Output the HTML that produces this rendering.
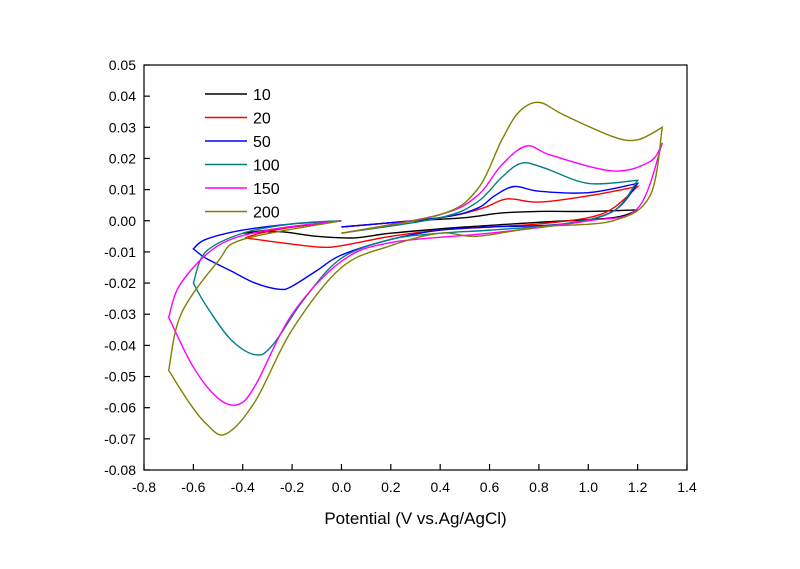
<!DOCTYPE html>
<html><head><meta charset="utf-8"><style>
body{margin:0;background:#fff;}
svg text{font-family:"Liberation Sans",Arial,sans-serif;}
</style></head><body>
<svg id="chart" width="800" height="564" xmlns="http://www.w3.org/2000/svg"></svg>
<script>
const xTicks=[-0.8,-0.6,-0.4,-0.2,0.0,0.2,0.4,0.6,0.8,1.0,1.2,1.4];
const yTicks=[0.05,0.04,0.03,0.02,0.01,0.00,-0.01,-0.02,-0.03,-0.04,-0.05,-0.06,-0.07,-0.08];
const seriesNames=["10","20","50","100","150","200"];
const seriesColors=["#000000","#ff0000","#0000ff","#008080","#ff00ff","#808000"];
const s10=[[0,-0.002],[0.3,0.0],[0.5,0.001],[0.65,0.0025],[0.8,0.003],[1.0,0.003],[1.2,0.0035],[1.1,0.001],[0.8,-0.0005],[0.5,-0.002],[0.2,-0.004],[0.05,-0.0055],[-0.1,-0.005],[-0.25,-0.0035],[-0.4,-0.004],[-0.3,-0.003],[-0.15,-0.0015],[0,0]];
const s20=[[0,-0.002],[0.4,0.001],[0.57,0.004],[0.67,0.007],[0.8,0.006],[1.0,0.008],[1.2,0.011],[1.1,0.004],[1.0,0.001],[0.8,-0.001],[0.6,-0.002],[0.4,-0.003],[0.2,-0.005],[0.0,-0.008],[-0.08,-0.0085],[-0.2,-0.0075],[-0.39,-0.0055],[-0.33,-0.004],[-0.2,-0.002],[0,0]];
const s50=[[0,-0.002],[0.4,0.001],[0.55,0.004],[0.62,0.008],[0.7,0.011],[0.8,0.0095],[1.0,0.009],[1.2,0.012],[1.1,0.003],[0.9,-0.001],[0.6,-0.002],[0.4,-0.003],[0.2,-0.006],[0.0,-0.011],[-0.1,-0.016],[-0.2,-0.021],[-0.25,-0.022],[-0.35,-0.02],[-0.45,-0.016],[-0.55,-0.012],[-0.6,-0.009],[-0.55,-0.006],[-0.4,-0.003],[-0.2,-0.001],[0,0]];
const s100=[[0,-0.004],[0.4,0.001],[0.55,0.006],[0.65,0.014],[0.73,0.0185],[0.82,0.017],[1.0,0.012],[1.2,0.013],[1.1,0.003],[0.9,-0.001],[0.6,-0.003],[0.4,-0.004],[0.2,-0.006],[0.0,-0.012],[-0.15,-0.025],[-0.28,-0.04],[-0.35,-0.043],[-0.45,-0.038],[-0.55,-0.027],[-0.6,-0.02],[-0.55,-0.01],[-0.4,-0.004],[-0.2,-0.001],[0,0]];
const s150=[[0,-0.004],[0.4,0.002],[0.55,0.008],[0.65,0.018],[0.75,0.024],[0.85,0.021],[1.1,0.016],[1.25,0.019],[1.3,0.025],[1.2,0.004],[1.0,0.0],[0.6,-0.004],[0.2,-0.007],[0,-0.013],[-0.2,-0.03],[-0.35,-0.053],[-0.42,-0.059],[-0.5,-0.057],[-0.6,-0.047],[-0.7,-0.031],[-0.65,-0.02],[-0.5,-0.008],[-0.3,-0.003],[0,0]];
const s200=[[0,-0.004],[0.4,0.002],[0.55,0.01],[0.65,0.026],[0.72,0.035],[0.8,0.038],[0.9,0.034],[1.1,0.027],[1.2,0.026],[1.3,0.03],[1.25,0.008],[1.1,0.0],[0.8,-0.002],[0.55,-0.005],[0.4,-0.004],[0.2,-0.008],[0,-0.015],[-0.2,-0.035],[-0.35,-0.058],[-0.47,-0.0685],[-0.55,-0.065],[-0.62,-0.058],[-0.7,-0.048],[-0.65,-0.03],[-0.5,-0.013],[-0.4,-0.006],[0,0]];
const seriesData=[s10,s20,s50,s100,s150,s200];

const L=144,R=687,T=65,B=470;
const xS=v=>L+(v+0.8)/2.2*(R-L);
const yS=v=>T+(0.05-v)/0.13*(B-T);
const svg=document.getElementById('chart');
const NS="http://www.w3.org/2000/svg";
function mk(tag,attrs){const e=document.createElementNS(NS,tag);for(const k in attrs)e.setAttribute(k,attrs[k]);svg.appendChild(e);return e;}

const frame=mk('rect',{x:L,y:T,width:R-L,height:B-T,fill:'none',stroke:'#000','stroke-width':1.2});



xTicks.forEach(v=>{
  const x=xS(v);
  const t=mk('line',{x1:x,x2:x,y1:B,y2:B-6,stroke:'#000','stroke-width':1.2});
  
  
  const lb=mk('text',{x:x,y:B+22,'text-anchor':'middle','font-size':14,fill:'#000'});
  lb.textContent=v.toFixed(1);
  
  
});
yTicks.forEach(v=>{
  const y=yS(v);
  const t=mk('line',{x1:L,x2:L+6,y1:y,y2:y,stroke:'#000','stroke-width':1.2});
  
  
  const lb=mk('text',{x:L-8,y:y+5,'text-anchor':'end','font-size':14,fill:'#000'});
  lb.textContent=v.toFixed(2);
  
  
});
const xt=mk('text',{x:(L+R)/2,y:524,'text-anchor':'middle','font-size':17,fill:'#000'});
xt.textContent='Potential (V vs.Ag/AgCl)';



function smooth(p){
  let s='';
  for(let i=0;i<p.length-1;i++){
    const p0=p[Math.max(0,i-1)],p1=p[i],p2=p[i+1],p3=p[Math.min(p.length-1,i+2)];
    const c1=[p1[0]+(p2[0]-p0[0])/6,p1[1]+(p2[1]-p0[1])/6];
    const c2=[p2[0]-(p3[0]-p1[0])/6,p2[1]-(p3[1]-p1[1])/6];
    s+=' C'+c1[0]+','+c1[1]+' '+c2[0]+','+c2[1]+' '+p2[0]+','+p2[1];
  }
  return s;
}
function pathFor(pts){
  const p=pts.map(d=>[xS(d[0]),yS(d[1])]);
  // split at scan reversal points (sharp corners)
  const segs=[];let cur=[p[0]];
  for(let i=1;i<p.length;i++){
    cur.push(p[i]);
    if(i<p.length-1){
      const d1=p[i][0]-p[i-1][0],d2=p[i+1][0]-p[i][0];
      if(d1*d2<0){segs.push(cur);cur=[p[i]];}
    }
  }
  segs.push(cur);
  let s='M'+p[0][0]+','+p[0][1];
  segs.forEach(sg=>{s+=smooth(sg);});
  return s;
}
seriesData.forEach((d,i)=>{
  const pa=mk('path',{d:pathFor(d),fill:'none',stroke:seriesColors[i],'stroke-width':1.4});
  
  
  const y=94+i*23.5;
  const ll=mk('line',{x1:205,x2:247,y1:y,y2:y,stroke:seriesColors[i],'stroke-width':1.4});
  
  
  const lt=mk('text',{x:253,y:y+6,'font-size':16,fill:'#000'});
  lt.textContent=seriesNames[i];
  
  
});
</script>
</body></html>
